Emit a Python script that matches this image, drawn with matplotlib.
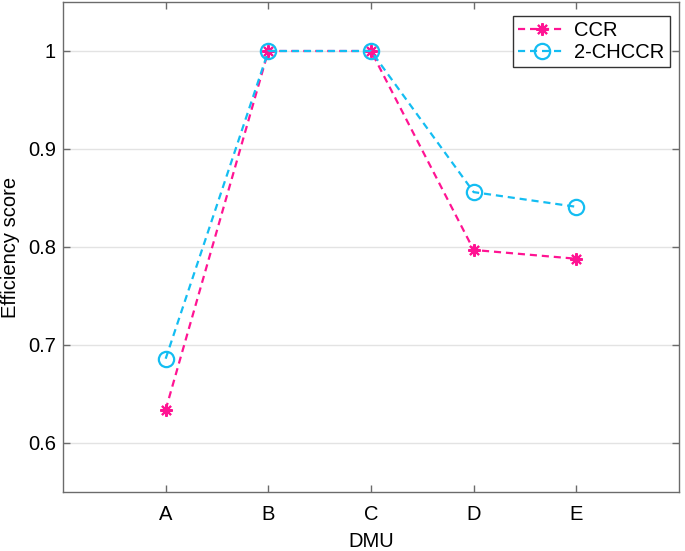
import matplotlib
matplotlib.use("Agg")
import matplotlib.pyplot as plt
import numpy as np

plt.rcParams['font.family'] = ['Liberation Sans', 'DejaVu Sans']

# data
dmus = ['A', 'B', 'C', 'D', 'E']
ccr = [0.634, 1.0, 1.0, 0.797, 0.788]
chccr = [0.686, 1.0, 1.0, 0.856, 0.841]

pink = '#ff1493'
cyan = '#14bdf2'
axis_grey = '#6b6b6b'

fig = plt.figure(figsize=(6.85, 5.51), dpi=100)
ax = fig.add_axes([63/685, 1 - 492/551, (679 - 63)/685, (492 - 2)/551])

x = np.arange(1, len(dmus) + 1)
ax.plot(x, ccr, linestyle=(0, (3.2, 2.2)), color=pink, lw=1.6,
        marker=(8, 2, 0), markersize=9, markeredgewidth=1.5, label='CCR')
ax.plot(x, chccr, linestyle=(0, (3.2, 2.2)), color=cyan, lw=1.6,
        marker='o', markersize=11, markerfacecolor='none', markeredgewidth=1.6,
        label='2-CHCCR')

ax.set_xlim(0, 6)
ax.set_ylim(0.55, 1.05)
ax.set_xticks(x)
ax.set_xticklabels(dmus)
ax.set_yticks([0.6, 0.7, 0.8, 0.9, 1.0])
ax.set_yticklabels(['0.6', '0.7', '0.8', '0.9', '1'])

ax.yaxis.grid(True, color='#e3e3e3', lw=1.0)
ax.set_axisbelow(True)

for s in ax.spines.values():
    s.set_color(axis_grey)
    s.set_linewidth(1.0)
ax.tick_params(direction='in', length=5, width=1.0, color=axis_grey,
               top=True, right=True, labelsize=14.5, labelcolor='black')
ax.tick_params(axis='y', pad=5)
ax.tick_params(axis='x', pad=9)

ax.set_xlabel('DMU', fontsize=14.5, labelpad=6)
ax.set_ylabel('Efficiency score', fontsize=14.5)
ax.yaxis.set_label_coords((20 - 63) / 616, 0.5)

leg = ax.legend(loc='upper right', bbox_to_anchor=(0.985, 0.972), fontsize=14.5,
                fancybox=False, framealpha=1, edgecolor='#333333',
                handlelength=2.4, borderpad=0.25, labelspacing=0.15,
                handletextpad=0.4, borderaxespad=0)
leg.get_frame().set_linewidth(1.0)

fig.savefig('out.png', dpi=100)
